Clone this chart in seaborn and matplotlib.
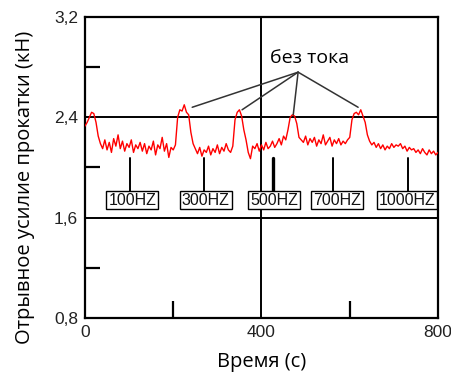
import seaborn as sns
import matplotlib.pyplot as plt
from matplotlib.ticker import FixedLocator, FixedFormatter

# ---------- DATA ----------
# sample times (s), 5 s step
time_s = list(range(0, 805, 5))
force_kn = [
    2.33, 2.36, 2.40, 2.44, 2.43, 2.36, 2.25, 2.19, 2.15, 2.22,
    2.14, 2.20, 2.12, 2.23, 2.17, 2.26, 2.15, 2.21, 2.13, 2.19,
    2.16, 2.22, 2.12, 2.18, 2.15, 2.20, 2.13, 2.19, 2.11, 2.17,
    2.14, 2.21, 2.10, 2.18, 2.15, 2.24, 2.13, 2.19, 2.08, 2.16,
    2.14, 2.18, 2.40, 2.46, 2.45, 2.50, 2.44, 2.42, 2.28, 2.19,
    2.15, 2.11, 2.16, 2.09, 2.14, 2.12, 2.17, 2.10, 2.15, 2.12,
    2.18, 2.11, 2.16, 2.13, 2.19, 2.14, 2.12, 2.17, 2.38, 2.44,
    2.46, 2.41, 2.30, 2.22, 2.12, 2.07, 2.17, 2.15, 2.19, 2.13,
    2.18, 2.14, 2.20, 2.15, 2.17, 2.21, 2.16, 2.19, 2.23, 2.18,
    2.25, 2.22, 2.30, 2.40, 2.42, 2.41, 2.35, 2.24, 2.22, 2.20,
    2.25, 2.18, 2.23, 2.20, 2.24, 2.17, 2.22, 2.19, 2.26, 2.18,
    2.21, 2.24, 2.17, 2.22, 2.19, 2.23, 2.18, 2.21, 2.19, 2.22,
    2.24, 2.38, 2.43, 2.44, 2.42, 2.46, 2.41, 2.36, 2.26, 2.21,
    2.18, 2.20, 2.16, 2.19, 2.15, 2.18, 2.14, 2.17, 2.15, 2.19,
    2.16, 2.18, 2.17, 2.19, 2.15, 2.17, 2.13, 2.16, 2.14, 2.15,
    2.12, 2.14, 2.11, 2.15, 2.12, 2.10, 2.14, 2.11, 2.13, 2.10,
    2.12,
]

# frequency boxes: label, box x, stem x
freq_labels = ["100HZ", "300HZ", "500HZ", "700HZ", "1000HZ"]
freq_box_x = [107, 274, 429, 571, 730]
freq_stem_x = [102, 270, 426, 562, 732]

# "без тока" pointers
note_text = "без тока"
note_xy = (483, 2.76)
note_label_x = 510
note_targets_x = [243, 356, 472, 619]
note_targets_y = [2.48, 2.46, 2.42, 2.48]

x_ticks = [0, 400, 800]
y_ticks = [0.8, 1.6, 2.4, 3.2]
y_tick_labels = ["0,8", "1,6", "2,4", "3,2"]

# ---------- PLOT ----------
sns.set_style("white")
plt.rcParams["font.family"] = ["Liberation Sans", "DejaVu Sans"]
plt.rcParams["text.color"] = "black"
cyr = ["Open Sans", "DejaVu Sans"]

fig = plt.figure(figsize=(4.52, 3.78), dpi=100)
ax = fig.add_axes([0.188, 0.159, 0.781, 0.796])

sns.lineplot(x=time_s, y=force_kn, color="red", linewidth=1.0, ax=ax, zorder=3)

ax.set_xlim(0, 800)
ax.set_ylim(0.8, 3.2)

# grid lines
ax.axhline(2.4, color="black", lw=1.4, zorder=2)
ax.axhline(1.6, color="black", lw=1.4, zorder=2)
ax.axvline(400, color="black", lw=1.4, zorder=2)

for s in ax.spines.values():
    s.set_color("black")
    s.set_linewidth(1.6)

ax.xaxis.set_major_locator(FixedLocator(x_ticks))
ax.yaxis.set_major_locator(FixedLocator(y_ticks))
ax.yaxis.set_major_formatter(FixedFormatter(y_tick_labels))
ax.xaxis.set_minor_locator(FixedLocator([200, 600]))
ax.yaxis.set_minor_locator(FixedLocator([1.2, 2.0, 2.8]))
ax.tick_params(which="major", length=0, labelsize=12.5, labelcolor="#222222", pad=5)
ax.tick_params(axis="x", which="minor", direction="in", length=12, width=1.6,
               color="black", bottom=True)
ax.tick_params(axis="y", which="minor", direction="in", length=11, width=1.6,
               color="black", left=True)

# stems and boxes
for lab, bx, sx in zip(freq_labels, freq_box_x, freq_stem_x):
    lw = 2.4 if lab == "500HZ" else 1.4
    ax.plot([sx, sx], [2.075, 1.8], color="black", lw=lw, zorder=2)
    ax.text(bx, 1.74, lab, ha="center", va="center", fontsize=11.5,
            color="#111111", zorder=5,
            bbox=dict(boxstyle="square,pad=0.12", fc="white", ec="black", lw=1.0))

# annotation
for tx, ty in zip(note_targets_x, note_targets_y):
    ax.plot([note_xy[0], tx], [note_xy[1], ty], color="#333333", lw=1.1, zorder=4)
ax.text(note_label_x, note_xy[1] + 0.04, note_text, ha="center", va="bottom",
        fontsize=14, color="black", family=cyr)

ax.set_xlabel("Время (с)", fontsize=14.5, family=cyr, color="black", labelpad=9)
ax.set_ylabel("Отрывное усилие прокатки (кН)", fontsize=14.5, family=cyr,
              color="black")
ax.yaxis.set_label_coords(-0.142, 0.435)

fig.savefig("out.png", dpi=100)
